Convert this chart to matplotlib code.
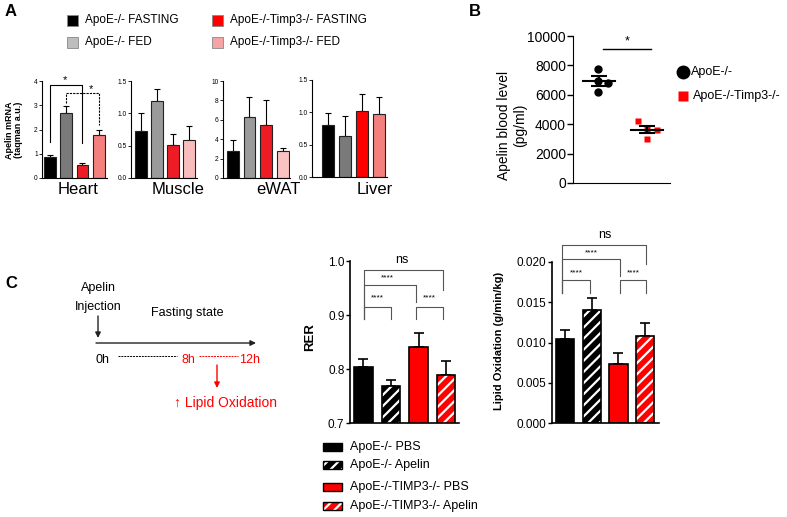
import numpy as np
import matplotlib
matplotlib.use("Agg")
import matplotlib.pyplot as plt
from matplotlib.patches import Rectangle

plt.rcParams["font.family"] = ["Liberation Sans", "DejaVu Sans"]
plt.rcParams["hatch.linewidth"] = 1.6

W, H = 787, 517

# ── Panel A: Apelin mRNA per tissue ──────────────────────────────────────────
A_LABELS = ["ApoE-/- FASTING", "ApoE-/- FED",
            "ApoE-/-Timp3-/- FASTING", "ApoE-/-Timp3-/- FED"]
A_LEG_COLORS = ["#000000", "#BDBDBD", "#FF0000", "#F5A3A3"]
TISSUES = ["Heart", "Muscle", "eWAT", "Liver"]
HEART_MEAN = [0.88, 2.70, 0.55, 1.77]
HEART_SEM = [0.07, 0.28, 0.08, 0.20]
MUSCLE_MEAN = [0.73, 1.19, 0.51, 0.59]
MUSCLE_SEM = [0.27, 0.19, 0.17, 0.22]
EWAT_MEAN = [2.80, 6.30, 5.45, 2.75]
EWAT_SEM = [1.10, 2.10, 2.55, 0.35]
LIVER_MEAN = [0.80, 0.64, 1.02, 0.98]
LIVER_SEM = [0.19, 0.30, 0.27, 0.25]
HEART_COLORS = ["#000000", "#7A7A7A", "#EE1C25", "#F47F7F"]
MUSCLE_COLORS = ["#000000", "#9A9A9A", "#EE1C25", "#F9BDBD"]
EWAT_COLORS = ["#000000", "#9A9A9A", "#EE1C25", "#FBC2C2"]
LIVER_COLORS = ["#000000", "#7A7A7A", "#FF0000", "#F47F7F"]

# ── Panel B: Apelin blood level ──────────────────────────────────────────────
B_GROUPS = ["ApoE-/-", "ApoE-/-Timp3-/-"]
B_APOE = [7750, 6940, 6800, 6190]
B_APOE_X = [-0.02, -0.02, 0.19, -0.02]
B_TIMP = [4220, 3700, 3600, 2990]
B_TIMP_X = [-0.19, 0.0, 0.21, 0.0]
B_SEM = [340, 260]

# ── Panel C: RER and lipid oxidation ─────────────────────────────────────────
C_LABELS = ["ApoE-/- PBS", "ApoE-/- Apelin",
            "ApoE-/-TIMP3-/- PBS", "ApoE-/-TIMP3-/- Apelin"]
C_FACE = ["#000000", "#000000", "#FF0000", "#FF0000"]
C_HATCHED = [False, True, False, True]
RER_MEAN = [0.803, 0.769, 0.840, 0.789]
RER_SEM = [0.016, 0.010, 0.027, 0.025]
LIPID_MEAN = [0.0104, 0.0140, 0.0073, 0.0108]
LIPID_SEM = [0.0012, 0.0015, 0.0014, 0.0016]


def px_axes(l, t, r, b):
    return fig.add_axes([l / W, 1 - b / H, (r - l) / W, (b - t) / H])


fig = plt.figure(figsize=(W / 100, H / 100), dpi=100)

# overlay in pixel coords for labels / schematic
ov = fig.add_axes([0, 0, 1, 1])
ov.set_xlim(0, W)
ov.set_ylim(H, 0)
ov.axis("off")

# ── Panel A ──────────────────────────────────────────────────────────────────
a_specs = [
    (HEART_MEAN, HEART_SEM, HEART_COLORS, (42, 81, 107, 178), (-0.47, 3.5),
     (0, 4), [0, 1, 2, 3, 4], ["0", "1", "2", "3", "4"], 78),
    (MUSCLE_MEAN, MUSCLE_SEM, MUSCLE_COLORS, (131, 81, 197, 178), (-0.62, 3.5),
     (0, 1.5), [0, 0.5, 1.0, 1.5], ["0.0", "0.5", "1.0", "1.5"], 178),
    (EWAT_MEAN, EWAT_SEM, EWAT_COLORS, (223, 81, 290, 178), (-0.6, 3.45),
     (0, 10), [0, 2, 4, 6, 8, 10], ["0", "2", "4", "6", "8", "10"], 278),
    (LIVER_MEAN, LIVER_SEM, LIVER_COLORS, (312, 80, 387, 177), (-0.95, 3.5),
     (0, 1.5), [0, 0.5, 1.0, 1.5], ["0.0", "0.5", "1.0", "1.5"], 375),
]
a_axes = []
for i, (mean, sem, cols, box, xl, yl, yt, ytl, lab_x) in enumerate(a_specs):
    ax = px_axes(*box)
    x = np.arange(4)
    ax.bar(x, mean, 0.72, color=cols, edgecolor="#222222", linewidth=0.8, zorder=2)
    ax.errorbar(x, mean, yerr=[np.zeros(4), sem], fmt="none", ecolor="black",
                elinewidth=0.8, capsize=2.2, capthick=0.8, zorder=1)
    ax.set_xlim(*xl)
    ax.set_ylim(*yl)
    ax.set_yticks(yt)
    ax.set_yticklabels(ytl)
    ax.set_xticks([])
    ax.tick_params(axis="y", labelsize=4.8, length=2, width=0.6, pad=1)
    for s in ["top", "right"]:
        ax.spines[s].set_visible(False)
    for s in ["left", "bottom"]:
        ax.spines[s].set_linewidth(0.8)
    ov.text(lab_x, 190, TISSUES[i], fontsize=12, ha="center", va="center")
    a_axes.append(ax)

# heart significance brackets
axh = a_axes[0]
axh.plot([0, 0, 2, 2], [1.5, 3.83, 3.83, 1.45], color="black", lw=0.8,
         clip_on=False)
axh.text(0.95, 4.05, "*", ha="center", va="center", fontsize=8, clip_on=False)
axh.plot([1, 1, 3, 3], [3.1, 3.5, 3.5, 2.2], color="black", lw=0.8, ls="--",
         dashes=(2, 1), clip_on=False)
axh.text(2.5, 3.65, "*", ha="center", va="center", fontsize=8, clip_on=False)

ov.text(14, 130, "Apelin mRNA\n(taqman a.u.)", rotation=90, fontsize=6.5,
        fontweight="bold", ha="center", va="center", linespacing=1.1)

# panel A legend
for j, (lab, col) in enumerate(zip(A_LABELS, A_LEG_COLORS)):
    lx = 72 if j < 2 else 217
    ly = 20 if j % 2 == 0 else 42
    ov.add_patch(Rectangle((lx - 5.5, ly - 5.5), 11, 11, facecolor=col,
                           edgecolor="#888888", linewidth=0.6))
    ov.text(lx + 13, ly, lab, fontsize=8.5, ha="left", va="center")

ov.text(11, 12, "A", fontsize=12, fontweight="bold", ha="center", va="center")
ov.text(475, 12, "B", fontsize=12, fontweight="bold", ha="center", va="center")
ov.text(11, 283, "C", fontsize=12, fontweight="bold", ha="center", va="center")

# ── Panel B ──────────────────────────────────────────────────────────────────
axb = px_axes(573, 36, 670, 183)
axb.plot(np.array(B_APOE_X), B_APOE, "o", color="black", ms=5, zorder=3)
axb.plot(1 + np.array(B_TIMP_X), B_TIMP, "s", color="#FF0000", ms=4.5,
         mec="none", zorder=3)
for k, vals in enumerate([B_APOE, B_TIMP]):
    m = np.mean(vals)
    axb.plot([k - 0.33, k + 0.33], [m, m], color="black", lw=1.5, zorder=4)
    axb.errorbar([k], [m], yerr=B_SEM[k], fmt="none", ecolor="black",
                 elinewidth=1.5, capsize=6, capthick=1.5, zorder=4)
axb.set_xlim(-0.54, 1.48)
axb.set_ylim(0, 10000)
axb.set_yticks([0, 2000, 4000, 6000, 8000, 10000])
axb.set_xticks([])
axb.tick_params(axis="y", labelsize=10, length=4, width=1, pad=1)
for s in ["top", "right"]:
    axb.spines[s].set_visible(False)
axb.plot([0.08, 1.08], [9100, 9100], color="black", lw=1, clip_on=False)
axb.text(0.58, 9650, "*", fontsize=9, ha="center", va="center")
ov.text(512, 125, "Apelin blood level\n(pg/ml)", rotation=90, fontsize=10,
        ha="center", va="center", linespacing=1.15)

ov.plot([683], [72], "o", color="black", ms=9)
ov.text(691, 72, B_GROUPS[0], fontsize=9, ha="left", va="center")
ov.plot([683], [96], "s", color="#FF0000", ms=7, mec="none")
ov.text(693, 96, B_GROUPS[1], fontsize=9, ha="left", va="center")

# ── Panel C schematic ────────────────────────────────────────────────────────
ov.text(98, 288, "Apelin", fontsize=9, ha="center", va="center")
ov.text(98, 307, "Injection", fontsize=9, ha="center", va="center")
ov.annotate("", xy=(98, 338), xytext=(98, 316),
            arrowprops=dict(arrowstyle="-|>", color="#222222", lw=1,
                            mutation_scale=8, shrinkA=0, shrinkB=0))
ov.annotate("", xy=(256, 343), xytext=(96, 343),
            arrowprops=dict(arrowstyle="-|>", color="#222222", lw=1,
                            mutation_scale=8, shrinkA=0, shrinkB=0))
ov.text(187, 313, "Fasting state", fontsize=9, ha="center", va="center")
ov.text(103, 360, "0h", fontsize=9, ha="center", va="center")
ov.plot([118, 177], [356, 356], color="black", lw=0.7, ls=(0, (2, 1)))
ov.text(188, 360, "8h", fontsize=9, ha="center", va="center", color="#FF0000")
ov.plot([199, 238], [356, 356], color="#FF0000", lw=0.7, ls=(0, (2, 1)))
ov.text(250, 360, "12h", fontsize=9, ha="center", va="center", color="#FF0000")
ov.annotate("", xy=(217, 388), xytext=(217, 365),
            arrowprops=dict(arrowstyle="-|>", color="#FF0000", lw=1,
                            mutation_scale=8, shrinkA=0, shrinkB=0))
ov.text(225, 403, "\u2191 Lipid Oxidation", fontsize=10, ha="center",
        va="center", color="#FF0000")


# ── Panel C bar charts ───────────────────────────────────────────────────────
def hbars(ax, mean, sem):
    x = np.arange(4)
    for i in range(4):
        if C_HATCHED[i]:
            ax.bar(x[i], mean[i], 0.68, color=C_FACE[i], edgecolor="white",
                   hatch="///", linewidth=0, zorder=2)
            ax.bar(x[i], mean[i], 0.68, fill=False, edgecolor="black",
                   linewidth=1.2, zorder=3)
        else:
            ax.bar(x[i], mean[i], 0.68, color=C_FACE[i], edgecolor="black",
                   linewidth=1.2, zorder=2)
    ax.errorbar(x, mean, yerr=[np.zeros(4), sem], fmt="none", ecolor="black",
                elinewidth=1.2, capsize=3.5, capthick=1.2, zorder=1)
    ax.set_xticks([])
    for s in ["top", "right"]:
        ax.spines[s].set_visible(False)
    for s in ["left", "bottom"]:
        ax.spines[s].set_linewidth(1.2)
    ax.tick_params(axis="y", labelsize=8.5, length=3, width=1, pad=1)


def bracket(ax, x1, x2, top, b1, b2):
    ax.plot([x1, x1, x2, x2], [b1, top, top, b2], color="#555555", lw=0.8,
            clip_on=False)


axr = px_axes(350, 261, 459, 423)
hbars(axr, RER_MEAN, RER_SEM)
axr.set_xlim(-0.49, 3.47)
axr.set_ylim(0.7, 1.0)
axr.set_yticks([0.7, 0.8, 0.9, 1.0])
bracket(axr, 0.03, 0.99, 0.915, 0.892, 0.892)
bracket(axr, 1.9, 2.88, 0.915, 0.892, 0.892)
bracket(axr, 0.03, 1.9, 0.956, 0.892, 0.924)
bracket(axr, 0.03, 2.88, 0.983, 0.892, 0.946)
axr.text(0.5, 0.932, "****", fontsize=6, ha="center", va="center")
axr.text(2.4, 0.932, "****", fontsize=6, ha="center", va="center")
axr.text(0.85, 0.968, "****", fontsize=6, ha="center", va="center")
axr.text(1.4, 1.002, "ns", fontsize=9, ha="center", va="center", clip_on=False)
ov.text(310, 337, "RER", rotation=90, fontsize=9.5, fontweight="bold",
        ha="center", va="center")

axl = px_axes(552, 262, 659, 423)
hbars(axl, LIPID_MEAN, LIPID_SEM)
axl.set_xlim(-0.49, 3.52)
axl.set_ylim(0, 0.020)
axl.set_yticks([0, 0.005, 0.010, 0.015, 0.020])
axl.set_yticklabels(["0.000", "0.005", "0.010", "0.015", "0.020"])
bracket(axl, -0.1, 0.95, 0.0178, 0.01615, 0.01615)
bracket(axl, 2.05, 3.05, 0.0178, 0.01615, 0.01615)
bracket(axl, -0.1, 2.05, 0.02033, 0.01615, 0.01826)
bracket(axl, -0.1, 3.05, 0.02215, 0.01615, 0.0197)
axl.text(0.41, 0.0186, "****", fontsize=6, ha="center", va="center")
axl.text(2.55, 0.0186, "****", fontsize=6, ha="center", va="center")
axl.text(1.0, 0.0211, "****", fontsize=6, ha="center", va="center",
         clip_on=False)
axl.text(1.5, 0.0234, "ns", fontsize=9, ha="center", va="center",
         clip_on=False)
ov.text(499, 341, "Lipid Oxidation (g/min/kg)", rotation=90, fontsize=8,
        fontweight="bold", ha="center", va="center")

# panel C legend
for j, lab in enumerate(C_LABELS):
    ly = [447, 465, 487, 506][j]
    if C_HATCHED[j]:
        ov.add_patch(Rectangle((323, ly - 4), 19, 8, facecolor=C_FACE[j],
                               edgecolor="white", hatch="///", linewidth=0))
        ov.add_patch(Rectangle((323, ly - 4), 19, 8, fill=False,
                               edgecolor="black", linewidth=1))
    else:
        ov.add_patch(Rectangle((323, ly - 4), 19, 8, facecolor=C_FACE[j],
                               edgecolor="black", linewidth=1))
    ov.text(350, ly, lab, fontsize=9, ha="left", va="center")

fig.savefig("out.png", dpi=100)
